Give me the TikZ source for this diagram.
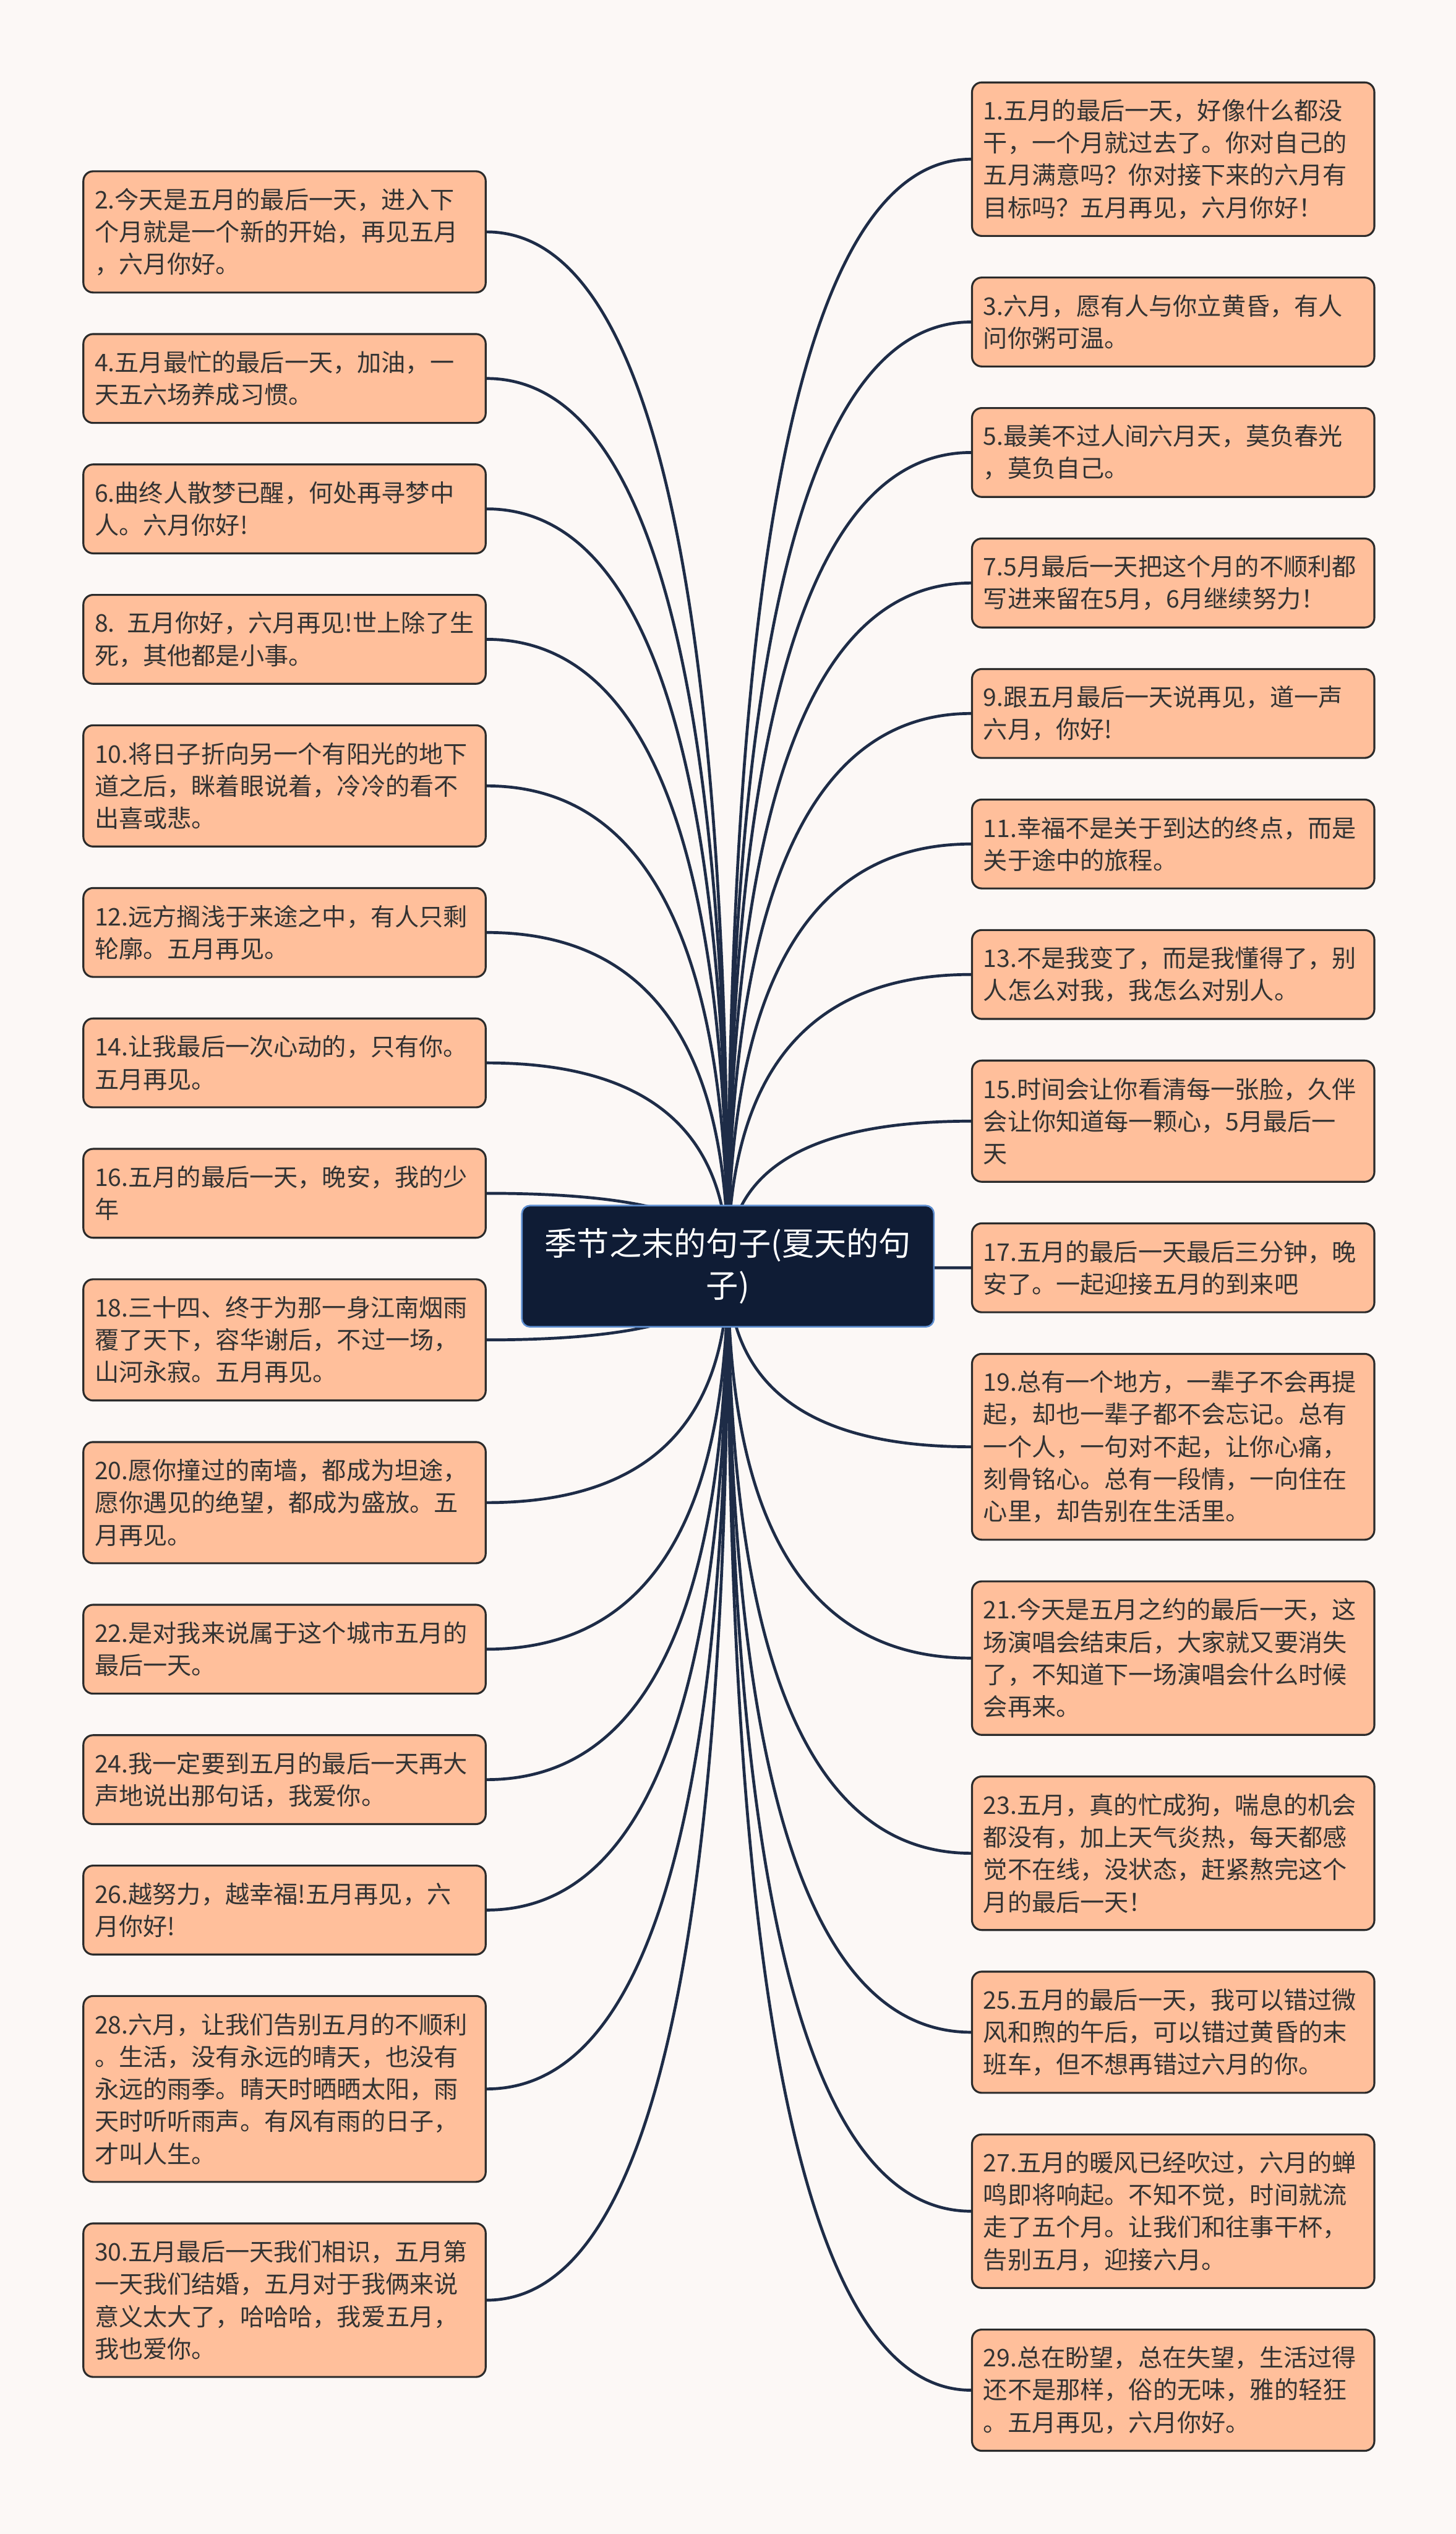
\documentclass[tikz,border=0pt]{standalone}
\usepackage{fontspec}
\usepackage{tikz}
\usetikzlibrary{calc,backgrounds}
\newfontfamily\cjk{Noto Sans CJK SC}
\definecolor{paper}{HTML}{FCF8F6}
\definecolor{peach}{HTML}{FFBF9B}
\definecolor{rim}{HTML}{2B2B2B}
\definecolor{ink}{HTML}{333333}
\definecolor{navy}{HTML}{0F1C35}
\definecolor{wire}{HTML}{1E2C47}
\definecolor{edge}{HTML}{5E8ED0}

\begin{document}
\begin{tikzpicture}[x=1pt,y=-1pt,
  leaf/.style={draw=rim, line width=1.2pt, fill=peach, rounded corners=6pt, anchor=west,
    text width=235pt, inner xsep=7pt, inner ysep=3pt, align=left, text=ink,
    font=\cjk\fontsize{15}{20}\selectfont},
  l2/.style={minimum height=55pt},
  l3/.style={minimum height=75pt},
  l4/.style={minimum height=95pt},
  l5/.style={minimum height=115pt},
  hub/.style={draw=edge, line width=1pt, fill=navy, rounded corners=5pt, text=white,
    minimum width=255pt, minimum height=75pt, align=center,
    font=\cjk\fontsize{20}{26}\selectfont},
  link/.style={draw=wire, line width=1.8pt}]
\useasboundingbox (0,0) rectangle (901,1568);

% centre
\node[hub] (hub) at (450.5,783.5) {季节之末的句子(夏天的句\\子)};

% left column
\node[leaf,l3] (n2) at (51,143.5) {2.今天是五月的最后一天，进入下\\个月就是一个新的开始，再见五月\\，六月你好。};
\node[leaf,l2] (n4) at (51,234.2) {4.五月最忙的最后一天，加油，一\\天五六场养成习惯。};
\node[leaf,l2] (n6) at (51,314.9) {6.曲终人散梦已醒，何处再寻梦中\\人。六月你好!};
\node[leaf,l2] (n8) at (51,395.6) {8. 五月你好，六月再见!世上除了生\\死，其他都是小事。};
\node[leaf,l3] (n10) at (51,486.3) {10.将日子折向另一个有阳光的地下\\道之后，眯着眼说着，冷冷的看不\\出喜或悲。};
\node[leaf,l2] (n12) at (51,577) {12.远方搁浅于来途之中，有人只剩\\轮廓。五月再见。};
\node[leaf,l2] (n14) at (51,657.7) {14.让我最后一次心动的，只有你。\\五月再见。};
\node[leaf,l2] (n16) at (51,738.4) {16.五月的最后一天，晚安，我的少\\年};
\node[leaf,l3] (n18) at (51,829.1) {18.三十四、终于为那一身江南烟雨\\覆了天下，容华谢后，不过一场，\\山河永寂。五月再见。};
\node[leaf,l3] (n20) at (51,929.8) {20.愿你撞过的南墙，都成为坦途，\\愿你遇见的绝望，都成为盛放。五\\月再见。};
\node[leaf,l2] (n22) at (51,1020.5) {22.是对我来说属于这个城市五月的\\最后一天。};
\node[leaf,l2] (n24) at (51,1101.2) {24.我一定要到五月的最后一天再大\\声地说出那句话，我爱你。};
\node[leaf,l2] (n26) at (51,1181.9) {26.越努力，越幸福!五月再见，六\\月你好!};
\node[leaf,l5] (n28) at (51,1292.6) {28.六月，让我们告别五月的不顺利\\。生活，没有永远的晴天，也没有\\永远的雨季。晴天时晒晒太阳，雨\\天时听听雨声。有风有雨的日子，\\才叫人生。};
\node[leaf,l4] (n30) at (51,1423.3) {30.五月最后一天我们相识，五月第\\一天我们结婚，五月对于我俩来说\\意义太大了，哈哈哈，我爱五月，\\我也爱你。};

% right column
\node[leaf,l4] (n1) at (601,98.5) {1.五月的最后一天，好像什么都没\\干，一个月就过去了。你对自己的\\五月满意吗？你对接下来的六月有\\目标吗？五月再见，六月你好！};
\node[leaf,l2] (n3) at (601,199.25) {3.六月，愿有人与你立黄昏，有人\\问你粥可温。};
\node[leaf,l2] (n5) at (601,280) {5.最美不过人间六月天，莫负春光\\，莫负自己。};
\node[leaf,l2] (n7) at (601,360.75) {7.5月最后一天把这个月的不顺利都\\写进来留在5月，6月继续努力！};
\node[leaf,l2] (n9) at (601,441.5) {9.跟五月最后一天说再见，道一声\\六月，你好!};
\node[leaf,l2] (n11) at (601,522.25) {11.幸福不是关于到达的终点，而是\\关于途中的旅程。};
\node[leaf,l2] (n13) at (601,603) {13.不是我变了，而是我懂得了，别\\人怎么对我，我怎么对别人。};
\node[leaf,l3] (n15) at (601,693.75) {15.时间会让你看清每一张脸，久伴\\会让你知道每一颗心，5月最后一\\天};
\node[leaf,l2] (n17) at (601,784.5) {17.五月的最后一天最后三分钟，晚\\安了。一起迎接五月的到来吧};
\node[leaf,l5] (n19) at (601,895.25) {19.总有一个地方，一辈子不会再提\\起，却也一辈子都不会忘记。总有\\一个人，一句对不起，让你心痛，\\刻骨铭心。总有一段情，一向住在\\心里，却告别在生活里。};
\node[leaf,l4] (n21) at (601,1026) {21.今天是五月之约的最后一天，这\\场演唱会结束后，大家就又要消失\\了，不知道下一场演唱会什么时候\\会再来。};
\node[leaf,l4] (n23) at (601,1146.75) {23.五月，真的忙成狗，喘息的机会\\都没有，加上天气炎热，每天都感\\觉不在线，没状态，赶紧熬完这个\\月的最后一天！};
\node[leaf,l3] (n25) at (601,1257.5) {25.五月的最后一天，我可以错过微\\风和煦的午后，可以错过黄昏的末\\班车，但不想再错过六月的你。};
\node[leaf,l4] (n27) at (601,1368.25) {27.五月的暖风已经吹过，六月的蝉\\鸣即将响起。不知不觉，时间就流\\走了五个月。让我们和往事干杯，\\告别五月，迎接六月。};
\node[leaf,l3] (n29) at (601,1479) {29.总在盼望，总在失望，生活过得\\还不是那样，俗的无味，雅的轻狂\\。五月再见，六月你好。};

% links behind the boxes
\begin{scope}[on background layer]
\fill[paper] (0,0) rectangle (901,1568);
\foreach \n in {2,4,...,30}
  \draw[link] (hub.center) .. controls ($(hub.center)!0.667!(hub.center |- n\n.east)$)
    and ($(n\n.east)!0.667!(hub.center |- n\n.east)$) .. (n\n.east);
\foreach \n in {1,3,...,29}
  \draw[link] (hub.center) .. controls ($(hub.center)!0.667!(hub.center |- n\n.west)$)
    and ($(n\n.west)!0.667!(hub.center |- n\n.west)$) .. (n\n.west);
\end{scope}
\end{tikzpicture}
\end{document}
